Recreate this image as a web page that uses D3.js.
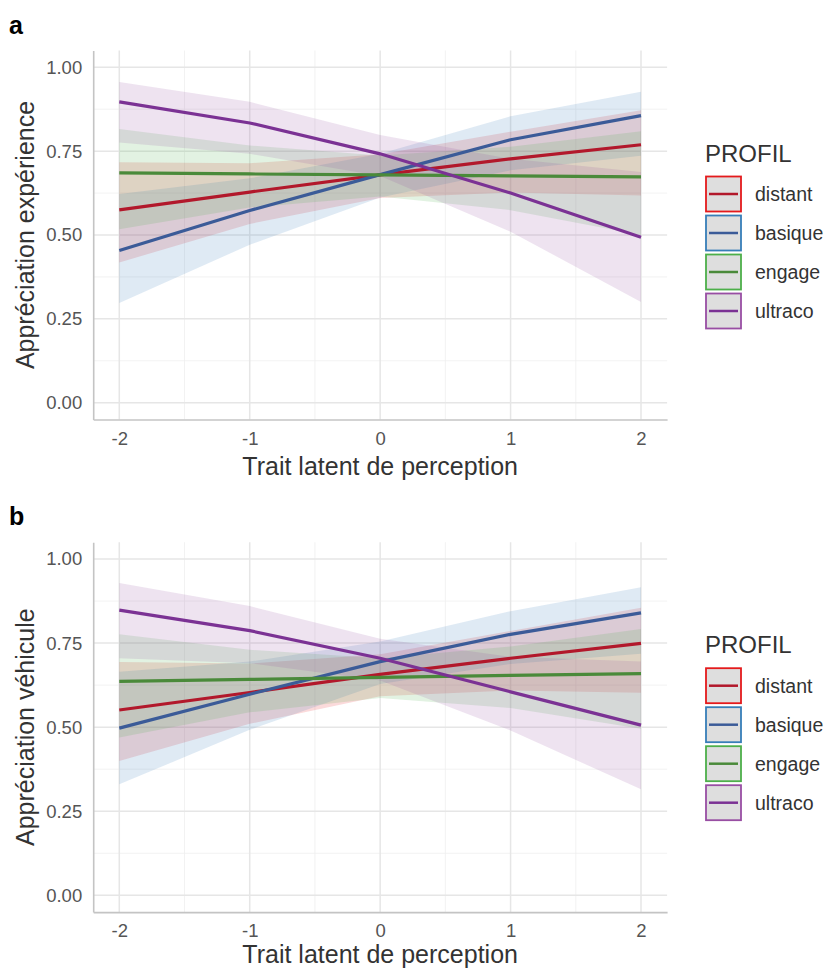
<!DOCTYPE html>
<html><head><meta charset="utf-8">
<script src="https://cdn.jsdelivr.net/npm/d3@7"></script>
<style>body{margin:0;background:#fff;} text{font-family:"Liberation Sans",Arial,sans-serif;}</style>
</head><body>
<svg id="chart" width="826" height="969"></svg>
<script>
// ---- data ----
const xValues = [-2, -1, 0, 1, 2];
const profiles = ["distant", "basique", "engage", "ultraco"];
const xTicks = [-2, -1, 0, 1, 2];
const xTickLabels = ["-2", "-1", "0", "1", "2"];
const yTicks = [0, 0.25, 0.5, 0.75, 1];
const yTickLabels = ["0.00", "0.25", "0.50", "0.75", "1.00"];
const panelLabels = ["a", "b"];
const yTitles = ["Appréciation expérience", "Appréciation véhicule"];
const xTitle = "Trait latent de perception";
const legendTitle = "PROFIL";

// panel a : Appréciation expérience (rows: distant, basique, engage, ultraco)
const expFit = [
  [0.575, 0.628, 0.679, 0.727, 0.769],
  [0.454, 0.573, 0.680, 0.784, 0.856],
  [0.685, 0.682, 0.679, 0.676, 0.673],
  [0.897, 0.834, 0.742, 0.625, 0.493]
];
const expLo = [
  [0.418, 0.533, 0.610, 0.627, 0.618],
  [0.297, 0.471, 0.612, 0.693, 0.736],
  [0.517, 0.582, 0.615, 0.574, 0.500],
  [0.776, 0.742, 0.676, 0.510, 0.300]
];
const expHi = [
  [0.717, 0.714, 0.741, 0.808, 0.872],
  [0.622, 0.669, 0.742, 0.854, 0.927],
  [0.816, 0.767, 0.737, 0.763, 0.809],
  [0.956, 0.897, 0.798, 0.727, 0.688]
];
// panel b : Appréciation véhicule
const vehFit = [
  [0.551, 0.603, 0.657, 0.705, 0.749],
  [0.497, 0.598, 0.695, 0.776, 0.840],
  [0.636, 0.642, 0.648, 0.654, 0.659],
  [0.848, 0.787, 0.705, 0.605, 0.506]
];
const vehLo = [
  [0.399, 0.510, 0.592, 0.609, 0.602],
  [0.330, 0.492, 0.628, 0.688, 0.718],
  [0.469, 0.544, 0.587, 0.557, 0.495],
  [0.705, 0.690, 0.639, 0.490, 0.315]
];
const vehHi = [
  [0.694, 0.689, 0.717, 0.786, 0.855],
  [0.665, 0.695, 0.755, 0.845, 0.916],
  [0.776, 0.730, 0.705, 0.740, 0.792],
  [0.929, 0.860, 0.763, 0.709, 0.695]
];

// ---- styles ----
const lineColors = ["#B2182B", "#3B5B98", "#4A8A3A", "#7B3294"];
const fillColors = ["#E41A1C", "#377EB8", "#4DAF4A", "#984EA3"];

const svg = d3.select("#chart");
const panels = [
  {fit: expFit, lo: expLo, hi: expHi, top: 50.5, bottom: 419.5, titleOffset: 55},
  {fit: vehFit, lo: vehLo, hi: vehHi, top: 542.2, bottom: 912.1, titleOffset: 51}
];
const left = 93.2, right = 667.1;
const x = d3.scaleLinear().domain([-2.2, 2.2]).range([left, right]);

panels.forEach((p, pi) => {
  const g = svg.append("g");
  const y = d3.scaleLinear().domain([-0.05, 1.05]).range([p.bottom, p.top]);
  // minor grid
  [-1.5, -0.5, 0.5, 1.5].forEach(v => g.append("line").attr("x1", x(v)).attr("x2", x(v))
    .attr("y1", p.top).attr("y2", p.bottom).attr("stroke", "#EFEFEF").attr("stroke-width", 0.8));
  [0.125, 0.375, 0.625, 0.875].forEach(v => g.append("line").attr("y1", y(v)).attr("y2", y(v))
    .attr("x1", left).attr("x2", right).attr("stroke", "#EFEFEF").attr("stroke-width", 0.8));
  // major grid
  xTicks.forEach(v => g.append("line").attr("x1", x(v)).attr("x2", x(v))
    .attr("y1", p.top).attr("y2", p.bottom).attr("stroke", "#E6E6E6").attr("stroke-width", 1.5));
  yTicks.forEach(v => g.append("line").attr("y1", y(v)).attr("y2", y(v))
    .attr("x1", left).attr("x2", right).attr("stroke", "#E6E6E6").attr("stroke-width", 1.5));

  // ribbons
  const area = d3.area().x(d => x(d.x)).y0(d => y(d.lo)).y1(d => y(d.hi));
  profiles.forEach((name, i) => {
    const data = xValues.map((xv, j) => ({x: xv, lo: p.lo[i][j], hi: p.hi[i][j]}));
    g.append("path").datum(data).attr("d", area)
      .attr("fill", fillColors[i]).attr("fill-opacity", 0.16).attr("stroke", "none");
  });
  // lines
  const line = d3.line().x(d => x(d.x)).y(d => y(d.y));
  profiles.forEach((name, i) => {
    const data = xValues.map((xv, j) => ({x: xv, y: p.fit[i][j]}));
    g.append("path").datum(data).attr("d", line)
      .attr("fill", "none").attr("stroke", lineColors[i]).attr("stroke-width", 3.2);
  });

  // axes
  const yAxis = d3.axisLeft(y).tickValues(yTicks).tickFormat((d, k) => yTickLabels[k]).tickSize(0).tickPadding(11);
  const ya = g.append("g").attr("transform", `translate(${left},0)`).call(yAxis);
  const xAxis = d3.axisBottom(x).tickValues(xTicks).tickFormat((d, k) => xTickLabels[k]).tickSize(0).tickPadding(12);
  const xa = g.append("g").attr("transform", `translate(0,${p.bottom})`).call(xAxis);
  [ya, xa].forEach(a => {
    a.select(".domain").attr("stroke", "#C4C4C4").attr("stroke-width", 1.6);
    a.selectAll("text").attr("fill", "#555").attr("font-size", 18.5)
      .style("font-family", '"Liberation Sans",Arial,sans-serif');
  });

  // titles
  g.append("text").attr("x", (left + right) / 2).attr("y", p.bottom + p.titleOffset)
    .attr("text-anchor", "middle").attr("font-size", 25).attr("fill", "#333").text(xTitle);
  g.append("text").attr("transform", `translate(34,${(p.top + p.bottom) / 2}) rotate(-90)`)
    .attr("text-anchor", "middle").attr("font-size", 25).attr("fill", "#333").text(yTitles[pi]);
  g.append("text").attr("x", 9).attr("y", p.top - 17).attr("font-size", 25).attr("font-weight", "bold")
    .attr("fill", "#000").text(panelLabels[pi]);

  // legend
  const lg = g.append("g").attr("transform", `translate(705,${p.top + 126})`);
  lg.append("text").attr("x", 0).attr("y", -15).attr("font-size", 24).attr("fill", "#333").text(legendTitle);
  profiles.forEach((name, i) => {
    const ky = i * 39;
    lg.append("rect").attr("x", 1).attr("y", ky).attr("width", 35).attr("height", 35)
      .attr("fill", "#DEDEDE").attr("stroke", fillColors[i]).attr("stroke-width", 1.8);
    lg.append("line").attr("x1", 4).attr("x2", 33).attr("y1", ky + 17.5).attr("y2", ky + 17.5)
      .attr("stroke", lineColors[i]).attr("stroke-width", 2.5);
    lg.append("text").attr("x", 50).attr("y", ky + 17.5).attr("dy", "0.35em")
      .attr("font-size", 19.5).attr("fill", "#333").text(name);
  });
});
</script>
</body></html>
